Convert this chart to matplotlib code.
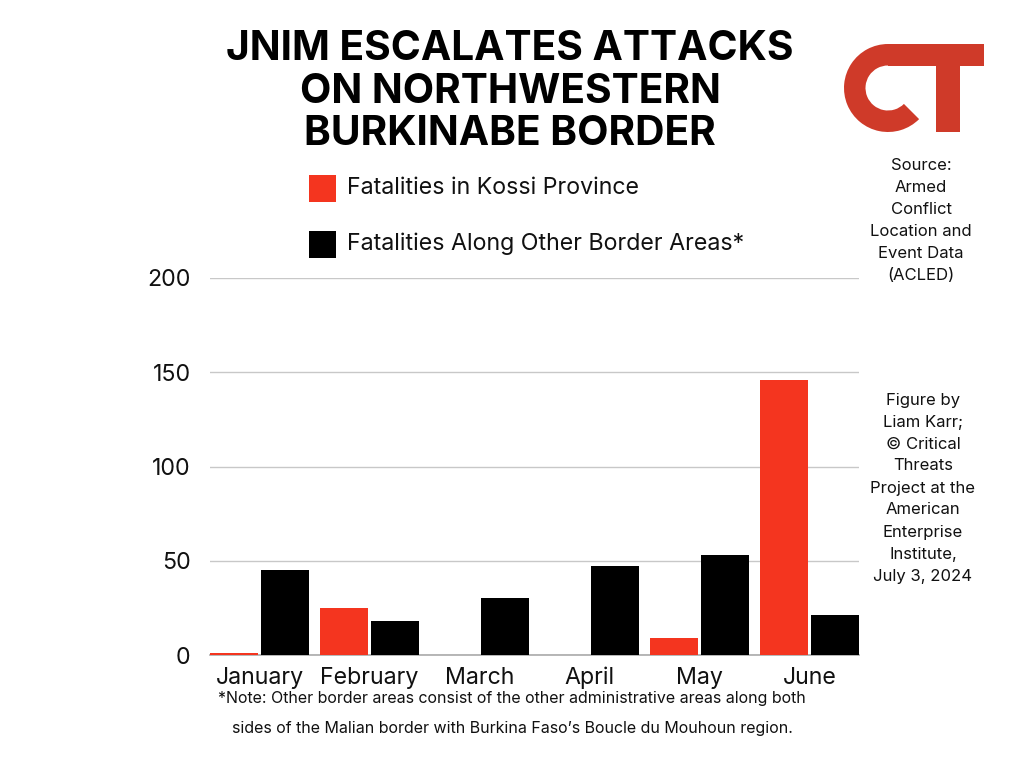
#!/usr/bin/env python
"""JNIM fatalities along the northwestern Burkinabe border, January-June 2024."""

import matplotlib
matplotlib.use('Agg')
import matplotlib.pyplot as plt
from matplotlib.patches import Rectangle, Wedge

months = ['January', 'February', 'March', 'April', 'May', 'June']
kossi = [1, 25, 0, 0, 9, 146]
other_border = [45, 18, 30, 47, 53, 21]
y_ticks = [0, 50, 100, 150, 200]

title_lines = ['JNIM ESCALATES ATTACKS', 'ON NORTHWESTERN', 'BURKINABE BORDER']
legend_labels = ['Fatalities in Kossi Province', 'Fatalities Along Other Border Areas*']
source_lines = ['Source:', 'Armed', 'Conflict', 'Location and', 'Event Data', '(ACLED)']
credit_lines = ['Figure by', 'Liam Karr;', '© Critical', 'Threats', 'Project at the',
                'American', 'Enterprise', 'Institute,', 'July 3, 2024']
note_lines = ['*Note: Other border areas consist of the other administrative areas along both',
              "sides of the Malian border with Burkina Faso’s Boucle du Mouhoun region."]

RED = '#f4351f'
LOGO_RED = '#cf3a29'
W, H = 1024, 768

plt.rcParams['font.family'] = ['Inter', 'DejaVu Sans']

fig = plt.figure(figsize=(W / 100, H / 100), dpi=100, facecolor='white')

# 오버레이: 픽셀 좌표계 (제목, 범례, 로고)
page = fig.add_axes([0, 0, 1, 1])
page.set_xlim(0, W)
page.set_ylim(0, H)
page.axis('off')

ax = fig.add_axes([210 / W, 1 - 655 / H, 649 / W, 377 / H])

x_pos = range(len(months))
ax.bar([x - 0.232 for x in x_pos], kossi, width=0.436, color=RED, zorder=3)
ax.bar([x + 0.232 for x in x_pos], other_border, width=0.436, color='black', zorder=3)

ax.set_xlim(-0.45, 5.45)
ax.set_ylim(0, 200)
ax.set_yticks(y_ticks)
ax.set_xticks(list(x_pos))
ax.set_xticklabels(months, va='baseline')
ax.tick_params(axis='both', length=0, labelsize=16.7, colors='#111111')
ax.tick_params(axis='y', pad=14)
ax.tick_params(axis='x', pad=21)
ax.grid(axis='y', color='#c8c8c8', linewidth=1, zorder=0)
ax.set_axisbelow(True)
for side in ['top', 'right', 'left']:
    ax.spines[side].set_visible(False)
ax.spines['bottom'].set_color('#aaaaaa')
ax.spines['bottom'].set_linewidth(1.2)
ax.patch.set_alpha(0)

# 제목
for text, y in zip(title_lines, [49, 92, 134]):
    page.text(510, H - y, text, ha='center', va='center', fontsize=29.3,
              fontweight='bold', color='black')

# 범례
for label, color, y in zip(legend_labels, [RED, 'black'], [188.5, 244]):
    page.add_patch(Rectangle((309, H - y - 13.5), 27, 27, color=color, linewidth=0))
    page.text(347, H - y, label, ha='left', va='center', fontsize=16.7, color='#111111')

# 출처 / 크레딧
for i, line in enumerate(source_lines):
    page.text(921, H - (165 + i * 22), line, ha='center', va='center', fontsize=12, color='#111111')
for i, line in enumerate(credit_lines):
    page.text(923, H - (400 + i * 22), line, ha='center', va='center', fontsize=12, color='#111111')

# 주석
page.text(512, H - 699, note_lines[0], ha='center', va='center', fontsize=11.5, color='#111111')
page.text(512, H - 729, note_lines[1], ha='center', va='center', fontsize=11.5, color='#111111')

# CT 로고
page.add_patch(Wedge((888, H - 88), 44, 90, 315, width=21.5, color=LOGO_RED, linewidth=0))
page.add_patch(Rectangle((888, H - 66), 96, 22, color=LOGO_RED, linewidth=0))
page.add_patch(Rectangle((936, H - 132), 24, 66, color=LOGO_RED, linewidth=0))

fig.savefig('out.png', dpi=100, facecolor='white')
